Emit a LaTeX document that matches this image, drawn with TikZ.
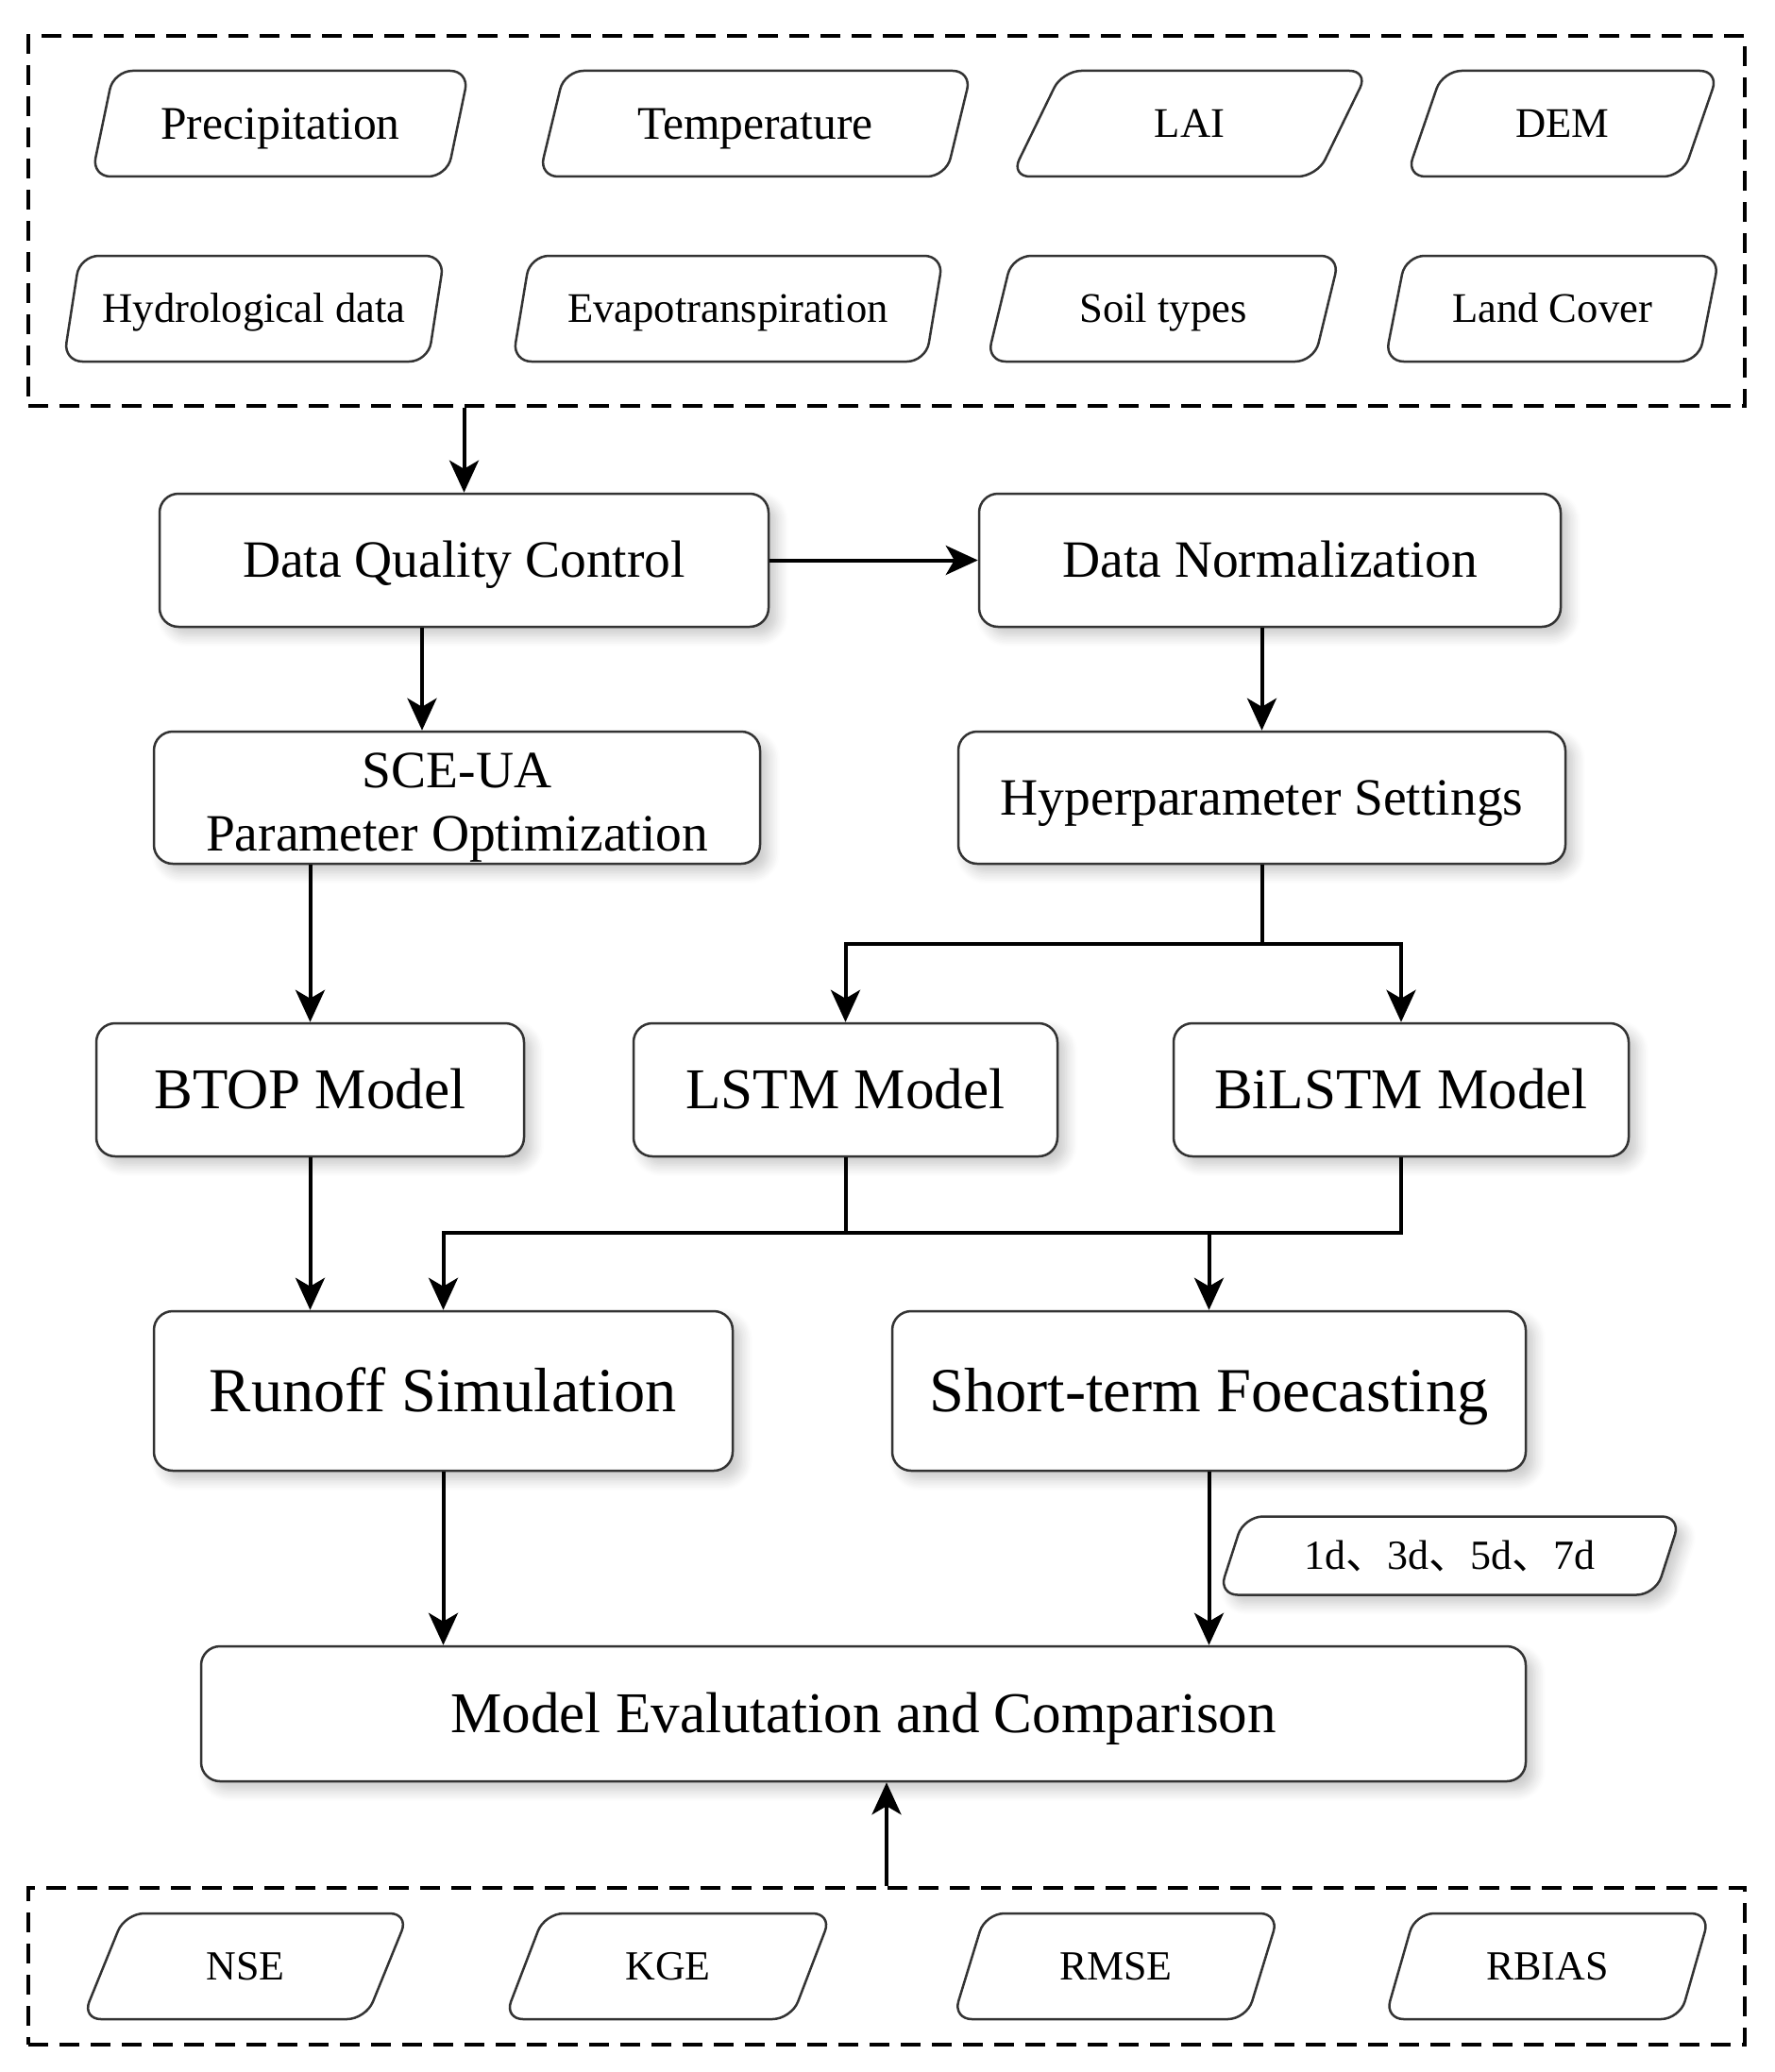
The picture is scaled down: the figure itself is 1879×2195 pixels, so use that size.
\documentclass[tikz,border=0pt]{standalone}
\usepackage{fontspec}
\setmainfont{Liberation Serif}
\newfontfamily\cjkfont{Noto Sans CJK SC}
\usetikzlibrary{shapes.geometric, arrows.meta, shadows.blur}
\newcommand{\dunhao}{{\cjkfont 、}}

\begin{document}
\begin{tikzpicture}[x=0.1mm, y=-0.1mm,
  sz/.style={font=\fontsize{#1}{#1}\selectfont, text height=0.662*#1pt, text depth=0pt},
  shade/.style={blur shadow={shadow xshift=0.9mm, shadow yshift=-0.9mm, shadow blur steps=8, shadow blur radius=1.2mm, shadow opacity=22}},
  boxbase/.style={draw=black!80, line width=0.25mm, rounded corners=2mm, fill=white, shade,
    minimum height=14.1mm, inner sep=0pt},
  box/.style={boxbase, sz=15.8},
  data/.style={draw=black!80, line width=0.25mm, rounded corners=2mm, trapezium,
    trapezium left angle=63, trapezium right angle=117, trapezium stretches=true,
    minimum height=11.2mm, inner sep=0pt, sz=12.7},
  frame/.style={draw, dash pattern=on 2.1mm off 1.2mm, line width=0.4mm, minimum width=181.8mm, inner sep=0pt},
  arr/.style={line width=0.4mm, -{Stealth[length=3.4mm, width=3.1mm, inset=0.9mm]}},
  link/.style={line width=0.4mm}]
\useasboundingbox (0,0) rectangle (1879,2195);

% input data
\node[frame, minimum height=39.2mm] (inputs) at (939,234) {};
\node[data, minimum width=40.2mm, sz=14.1] (precip) at (297,131) {Precipitation};
\node[data, minimum width=45.9mm, sz=14.1] (temp) at (800,131) {Temperature};
\node[data, minimum width=37.9mm] (lai) at (1260,131) {LAI};
\node[data, minimum width=33.2mm] (dem) at (1655,131) {DEM};
\node[data, minimum width=40.4mm] (hydro) at (269,327) {Hydrological data};
\node[data, minimum width=45.7mm] (evap) at (771,327) {Evapotranspiration};
\node[data, minimum width=37.5mm] (soil) at (1232,327) {Soil types};
\node[data, minimum width=35.5mm] (land) at (1644,327) {Land Cover};

% processing
\node[box, minimum width=64.5mm] (dqc) at (491.5,593.5) {Data Quality Control};
\node[box, minimum width=61.6mm] (norm) at (1345,593.5) {Data Normalization};
\node[boxbase, minimum width=64.2mm, minimum height=14mm, align=center, font=\fontsize{15.8}{19}\selectfont,
  text height=31.9pt, text depth=0pt] (sceua) at (484,845) {SCE-UA\\Parameter Optimization};
\node[box, minimum width=64.3mm, minimum height=14mm] (hyper) at (1336.5,845) {Hyperparameter Settings};

% models
\node[box, minimum width=45.3mm, sz=17.4] (btop) at (328.5,1154.5) {BTOP Model};
\node[box, minimum width=44.9mm, sz=17.4] (lstm) at (895.5,1154.5) {LSTM Model};
\node[box, minimum width=48.2mm, sz=17.4] (bilstm) at (1484,1154.5) {BiLSTM Model};

\node[box, minimum width=61.3mm, minimum height=16.9mm, sz=18.9] (runoff) at (469.5,1473.5) {Runoff Simulation};
\node[box, minimum width=67.1mm, minimum height=16.9mm, sz=18.9] (short) at (1280.5,1473.5) {Short-term Foecasting};
\node[data, fill=white, shade, minimum width=49.3mm, minimum height=8.3mm, trapezium left angle=57, trapezium right angle=123,
  sz=12.5] (lead) at (1535.5,1648) {1d\dunhao 3d\dunhao 5d\dunhao 7d};
\node[box, minimum width=140.3mm, minimum height=14.3mm, sz=17.4] (eval) at (914.5,1815.5) {Model Evalutation and Comparison};

% metrics
\node[frame, minimum height=16.6mm] (metrics) at (939,2083) {};
\node[data, minimum width=34.6mm, sz=12.5] (nse) at (260,2083) {NSE};
\node[data, minimum width=34.7mm, sz=12.5] (kge) at (707.5,2083) {KGE};
\node[data, minimum width=34.6mm, sz=12.5] (rmse) at (1182,2083) {RMSE};
\node[data, minimum width=34.6mm, sz=12.5] (rbias) at (1639,2083) {RBIAS};

% connectors
\draw[arr] (inputs.south -| dqc.north) -- (dqc.north);
\draw[arr] (dqc.east) -- (norm.west);
\draw[arr] ([xshift=-4.45mm]dqc.south) -- ([xshift=-4.45mm]dqc.south |- sceua.north);
\draw[arr] (hyper.north |- norm.south) -- (hyper.north);
\draw[arr] (btop.north |- sceua.south) -- (btop.north);
\draw[link] (hyper.south) -- ++(0,84) coordinate (split);
\draw[arr] (split) -| (lstm.north);
\draw[arr] (split) -| (bilstm.north);
\draw[arr] (btop.south) -- (btop.south |- runoff.north);
\draw[link] (lstm.south) -- ++(0,80) coordinate (merge);
\draw[link] (bilstm.south) |- (merge);
\draw[arr] (merge) -| (runoff.north);
\draw[arr] (merge -| short.north) -- (short.north);
\draw[arr] (runoff.south) -- (runoff.south |- eval.north);
\draw[arr] (short.south) -- (short.south |- eval.north);
\draw[arr] (metrics.north) -- (metrics.north |- eval.south);
\end{tikzpicture}
\end{document}
